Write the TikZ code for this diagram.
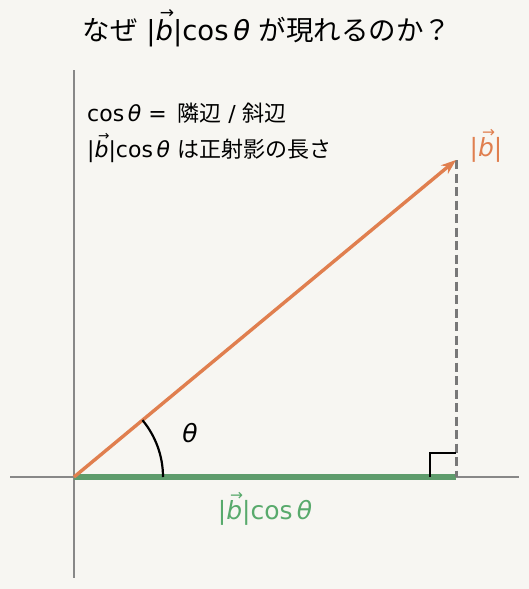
\documentclass[tikz,border=0pt]{standalone}
\usepackage{fontspec}
\usepackage{graphicx}
\usetikzlibrary{arrows.meta}
\setmainfont{DejaVu Sans}
\newfontfamily\jp{Noto Sans CJK JP}
\definecolor{bg}{RGB}{247,246,242}
\definecolor{vorange}{RGB}{224,127,79}
\definecolor{pgreen}{RGB}{94,156,108}
\definecolor{lgreen}{RGB}{88,170,108}
\definecolor{axisgray}{RGB}{136,136,136}
\definecolor{dashgray}{RGB}{120,120,120}
\newcommand\vecb{\ooalign{\textit{b}\cr\hidewidth\kern0.2em\raisebox{0.78em}{\scalebox{0.62}{→}}\hidewidth\cr}}
\newcommand\bnorm{|\vecb|}
\newcommand\cth{cos\kern0.17em\textit{θ}}
\tikzset{
  axisline/.style={axisgray, line width=1.1pt},
  vecline/.style={vorange, line width=3.4pt, -{Stealth[length=15pt,width=11pt]}},
  projline/.style={pgreen, line width=5.5pt},
  dropline/.style={dashgray, line width=3pt, dash pattern=on 9pt off 4.5pt},
  marker/.style={black, line width=2.2pt},
  titletext/.style={font=\fontsize{27.5}{32}\selectfont, inner sep=0pt},
  bodytext/.style={font=\fontsize{22}{26}\selectfont, inner sep=0pt, anchor=west},
  labeltext/.style={font=\fontsize{25}{30}\selectfont, inner sep=0pt},
}
\begin{document}
\begin{tikzpicture}[x=1pt,y=-1pt]
\fill[bg] (0,0) rectangle (529,589);
\useasboundingbox (0,0) rectangle (529,589);
% axes
\coordinate (xl) at (10,477);
\coordinate (xr) at (519,477);
\coordinate (yt) at (74,70);
\coordinate (yb) at (74,578);
\draw[axisline] (xl) -- (xr);
\draw[axisline] (yt) -- (yb);
% points
\coordinate (O) at (74,477);
\coordinate (P) at (456,160);
\coordinate (F) at (456,477);
\coordinate (A) at (163,477);
\coordinate (R1) at (430,477);
\coordinate (R2) at (430,453);
\coordinate (R3) at (456,453);
% projection
\draw[projline] (O) -- (F);
% dashed drop
\draw[dropline] (P) -- (F);
% vector
\draw[vecline] (O) -- (P);
% right angle marker
\draw[marker] (R1) -- (R2) -- (R3);
% angle arc
\draw[marker] (A) arc[start angle=0, end angle=39.7, radius=89pt];
% labels
\node[titletext] (title) at (267,32) {{\jp なぜ} \bnorm\cth{} {\jp が現れるのか？}};
\node[bodytext] (l1) at (87,113) {\cth{} =\, {\jp 隣辺} / {\jp 斜辺}};
\node[bodytext] (l2) at (87,151) {\bnorm\cth{} {\jp は正射影の長さ}};
\node[labeltext, text=vorange] (bl) at (486,150) {\bnorm};
\node[labeltext] (th) at (190,433) {\textit{θ}};
\node[labeltext, text=lgreen] (gl) at (265,513) {\bnorm\cth};
\end{tikzpicture}
\end{document}
